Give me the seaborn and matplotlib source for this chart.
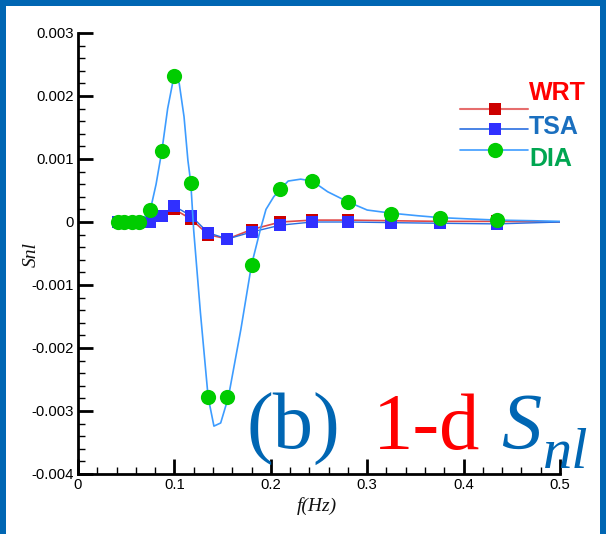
import matplotlib
matplotlib.use("Agg")
import matplotlib.pyplot as plt
import seaborn as sns
import numpy as np
from matplotlib.patches import Rectangle
from matplotlib.lines import Line2D
from matplotlib.ticker import MultipleLocator, FixedLocator

# ---------------- data ----------------
series_names = ["WRT", "TSA", "DIA"]

# marker frequencies (Hz)
f_mark = [0.041, 0.048, 0.056, 0.063, 0.075, 0.087, 0.100, 0.117, 0.135,
          0.155, 0.180, 0.210, 0.243, 0.280, 0.325, 0.375, 0.435]

wrt_mark = [0.0, 0.0, 0.0, 0.0, 0.0, 0.00010, 0.00020, 0.00005, -0.00020,
            -0.00027, -0.00012, 0.0, 0.00003, 0.00003, 0.00002, 0.00001, 0.00001]
tsa_mark = [0.0, 0.0, 0.0, 0.0, 0.0, 0.00010, 0.00025, 0.00010, -0.00017,
            -0.00027, -0.00016, -0.00005, 0.0, 0.0, -0.00001, -0.00002, -0.00003]
dia_mark = [0.0, 0.0, 0.0, 0.0, 0.00019, 0.00113, 0.00232, 0.00062, -0.00278,
            -0.00278, -0.00068, 0.00052, 0.00065, 0.00032, 0.00013, 0.00006, 0.00003]

# line vertices
f_line_wrt = f_mark + [0.5]
wrt_line = wrt_mark + [0.0]
f_line_tsa = f_mark + [0.5]
tsa_line = tsa_mark + [0.0]

f_line_dia = [0.041, 0.048, 0.056, 0.063, 0.069, 0.075, 0.081, 0.087, 0.093, 0.100,
              0.105, 0.110, 0.114, 0.117, 0.120, 0.127, 0.135, 0.141, 0.148, 0.156,
              0.169, 0.180, 0.189, 0.195, 0.203, 0.210, 0.218, 0.231, 0.243, 0.259,
              0.280, 0.300, 0.325, 0.352, 0.375, 0.404, 0.435, 0.472, 0.500]
dia_line = [0.0, 0.0, 0.0, 0.00002, 0.00008, 0.00019, 0.00060, 0.00113, 0.00180, 0.00235,
            0.00220, 0.00167, 0.00098, 0.00062, -0.00013, -0.00144, -0.00278, -0.00324, -0.00319, -0.00278,
            -0.00170, -0.00068, -0.00013, 0.00020, 0.00040, 0.00052, 0.00065, 0.00068, 0.00065, 0.00048,
            0.00032, 0.00019, 0.00014, 0.00010, 0.00007, 0.00005, 0.00003, 0.00002, 0.00001]

x_ticks = [0, 0.1, 0.2, 0.3, 0.4, 0.5]
x_tick_labels = ["0", "0.1", "0.2", "0.3", "0.4", "0.5"]
y_ticks = [-0.004, -0.003, -0.002, -0.001, 0, 0.001, 0.002, 0.003]
y_tick_labels = ["-0.004", "-0.003", "-0.002", "-0.001", "0", "0.001", "0.002", "0.003"]

# ---------------- styling ----------------
sns.set_theme(style="white")
plt.rcParams["font.family"] = ["Liberation Sans", "DejaVu Sans"]

W, H = 606, 534
fig = plt.figure(figsize=(W / 100, H / 100), dpi=100)
fig.patch.set_facecolor("white")

L, R, T, B = 78, 560, 33, 474
ax = fig.add_axes([L / W, 1 - B / H, (R - L) / W, (B - T) / H])
ax.set_facecolor("white")

line_cols = {"WRT": "#e04848", "TSA": "#2a6ee0", "DIA": "#3d9cff"}
mark_cols = {"WRT": "#cc0000", "TSA": "#3030ff", "DIA": "#00cc00"}
text_cols = {"WRT": "#ff0000", "TSA": "#1a6fbf", "DIA": "#00a651"}

# WRT
sns.lineplot(x=f_line_wrt, y=wrt_line, ax=ax, color=line_cols["WRT"], lw=1.2, zorder=2)
sns.scatterplot(x=f_mark, y=wrt_mark, ax=ax, color=mark_cols["WRT"], marker="s",
                s=80, linewidth=0, zorder=3)
# TSA
sns.lineplot(x=f_line_tsa, y=tsa_line, ax=ax, color=line_cols["TSA"], lw=1.0, zorder=4)
sns.scatterplot(x=f_mark, y=tsa_mark, ax=ax, color=mark_cols["TSA"], marker="s",
                s=80, linewidth=0, zorder=5)
# DIA
sns.lineplot(x=f_line_dia, y=dia_line, ax=ax, color=line_cols["DIA"], lw=1.2, zorder=6)
sns.scatterplot(x=f_mark, y=dia_mark, ax=ax, color=mark_cols["DIA"], marker="o",
                s=120, linewidth=0, zorder=7)

ax.set_xlim(0, 0.5)
ax.set_ylim(-0.004, 0.003)
ax.xaxis.set_major_locator(FixedLocator(x_ticks))
ax.set_xticklabels(x_tick_labels)
ax.yaxis.set_major_locator(FixedLocator(y_ticks))
ax.set_yticklabels(y_tick_labels)
ax.xaxis.set_minor_locator(MultipleLocator(0.02))
ax.yaxis.set_minor_locator(MultipleLocator(0.0002))

for s in ["top", "right"]:
    ax.spines[s].set_visible(False)
for s in ["left", "bottom"]:
    ax.spines[s].set_visible(True)
    ax.spines[s].set_color("black")
    ax.spines[s].set_linewidth(2)

ax.tick_params(axis="both", which="major", direction="in", length=11, width=2,
               color="black", labelsize=10.7, labelcolor="black", pad=3,
               left=True, bottom=True)
ax.tick_params(axis="both", which="minor", direction="in", length=5, width=1,
               color="black", left=True, bottom=True)
ax.grid(False)

ax.set_xlabel("")
ax.set_ylabel("")
fig.text(317 / W, 1 - 506 / H, "f(Hz)", family=["Liberation Serif"], style="italic",
         fontsize=14, ha="center", va="center", color="#111111")
fig.text(31 / W, 1 - 255 / H, "Snl", family=["Liberation Serif"], style="italic",
         fontsize=14, ha="center", va="center", rotation=90, color="#111111")

# legend (manual, matching reference layout)
leg_rows = [("WRT", 109, 93, "s", 8.2), ("TSA", 129, 127, "s", 8.0), ("DIA", 150, 159, "o", 11.0)]
for name, ly, ty, mk, ms in leg_rows:
    fig.add_artist(Line2D([460 / W, 528 / W], [1 - ly / H, 1 - ly / H],
                          color=line_cols[name], lw=1.5 if name == "WRT" else 1.2,
                          alpha=0.8 if name == "WRT" else 1.0))
    fig.add_artist(Line2D([495 / W], [1 - ly / H], marker=mk, markersize=ms,
                          markerfacecolor=mark_cols[name], markeredgewidth=0,
                          linestyle="none"))
    fig.text(529 / W, 1 - ty / H, name, fontsize=18, fontweight="bold",
             color=text_cols[name], ha="left", va="center",
             family=["Liberation Sans", "DejaVu Sans"])

# big annotation
blue = "#0066b3"
fig.text(247 / W, 1 - 449 / H, "(b)", family=["Liberation Serif"], fontsize=58,
         color=blue, ha="left", va="baseline")
fig.text(373 / W, 1 - 449 / H, "1-d", family=["Liberation Serif"], fontsize=58,
         color="#ff0000", ha="left", va="baseline")
fig.text(501 / W, 1 - 449 / H, "S", family=["Liberation Serif"], style="italic",
         fontsize=58, color=blue, ha="left", va="baseline")
fig.text(543 / W, 1 - 468 / H, "nl", family=["Liberation Serif"], style="italic",
         fontsize=42, color=blue, ha="left", va="baseline")

# blue frame (top, left, right)
fig.patches.append(Rectangle((0, 1 - 6 / H), 1, 6 / H, transform=fig.transFigure,
                             facecolor=blue, edgecolor="none", zorder=10))
fig.patches.append(Rectangle((0, 0), 6 / W, 1, transform=fig.transFigure,
                             facecolor=blue, edgecolor="none", zorder=10))
fig.patches.append(Rectangle((1 - 6 / W, 0), 6 / W, 1, transform=fig.transFigure,
                             facecolor=blue, edgecolor="none", zorder=10))

fig.savefig("out.png", dpi=100, facecolor="white")
